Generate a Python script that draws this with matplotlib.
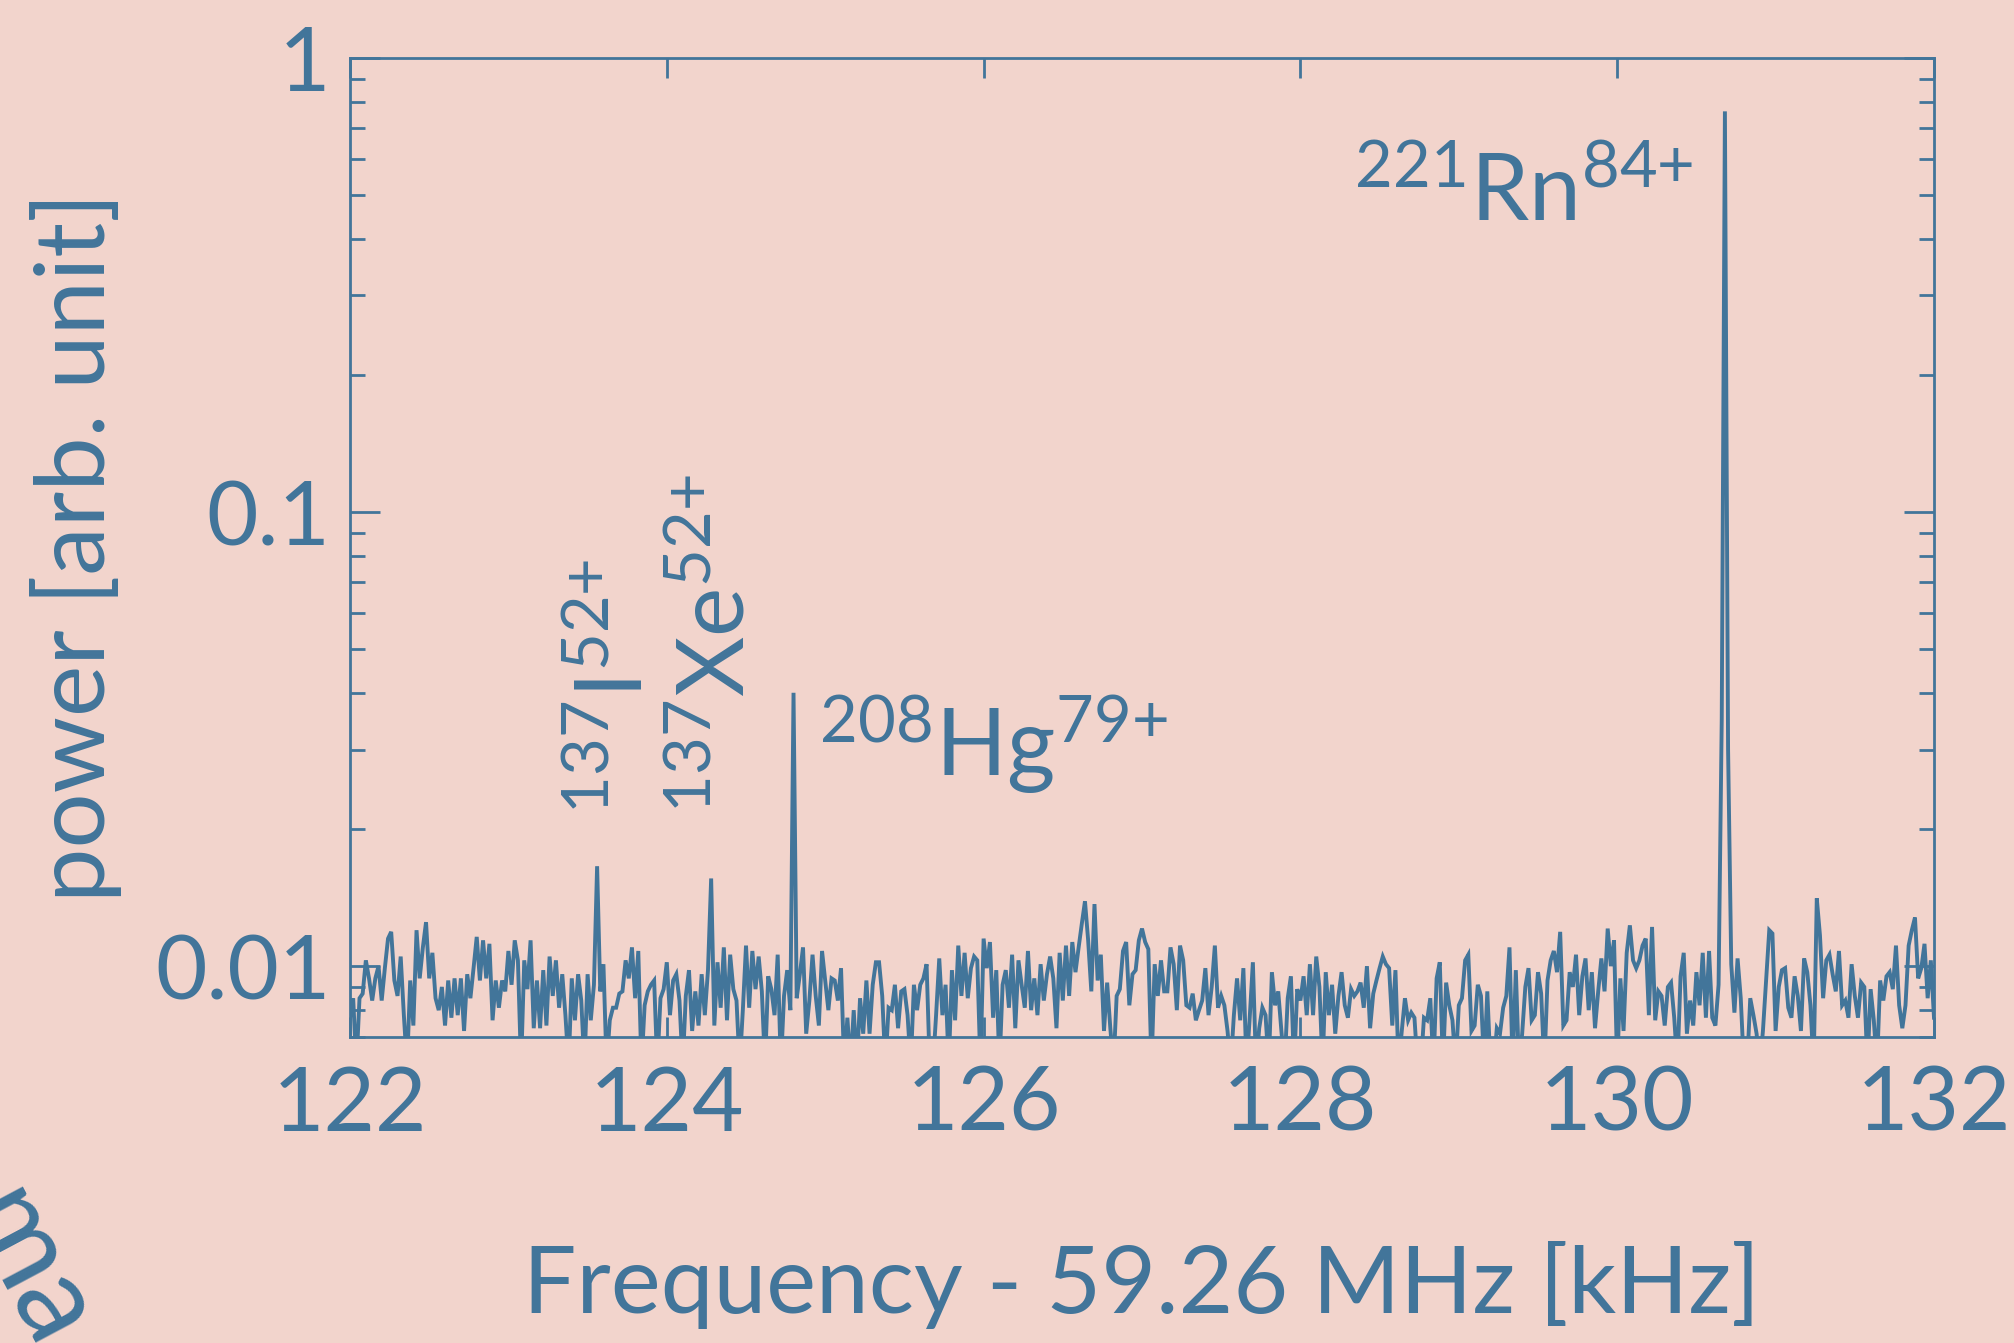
import numpy as np
import matplotlib
matplotlib.use("Agg")
import matplotlib.pyplot as plt
from matplotlib.ticker import FixedLocator, LogLocator, NullFormatter, NullLocator

# colours
BG = "#F2D4CC"
INK = "#42759A"

plt.rcParams["font.family"] = ["Lato", "DejaVu Sans"]
plt.rcParams["mathtext.fontset"] = "custom"
plt.rcParams["mathtext.default"] = "regular"
plt.rcParams["mathtext.rm"] = "Lato"

# =====================================================================
# Data (power in units of 1e-2, even spacing in f)
# =====================================================================
freq_start, freq_stop = 122.0, 132.0

power_122_1236 = [0.77, 0.85, 0.60, 0.85, 0.87, 1.03, 0.94, 0.84, 0.94, 1.00,
                  0.84, 0.99, 1.15, 1.19, 0.93, 0.86, 1.05, 0.78, 0.60, 0.93,
                  0.74, 1.20, 0.94, 1.10, 1.25, 0.94, 1.07, 0.85, 0.80, 0.90,
                  0.74, 0.93, 0.77, 0.94, 0.78, 0.94, 0.72, 0.96, 0.85, 0.99,
                  1.16, 0.93, 1.14, 0.94, 1.12, 0.76, 0.93, 0.81, 0.93, 0.88,
                  1.08, 0.91, 1.14, 1.03, 0.60, 1.03, 0.89, 1.14, 0.73, 0.93,
                  0.73, 0.98, 0.74, 1.05, 0.86, 1.03, 0.81, 0.96, 0.78, 0.60,
                  0.94, 0.76, 0.96, 0.84, 0.60, 0.96, 0.76, 0.91, 1.66, 0.88,
                  1.01, 0.60, 0.76, 0.81]
power_1237_1253 = [0.81, 0.87, 0.88, 1.03, 0.94, 1.10, 0.85, 1.08, 0.60, 0.82,
                   0.88, 0.91, 0.93, 0.60, 0.85, 0.89, 1.02, 0.78, 0.93, 0.96,
                   0.84, 0.60, 0.86, 0.98, 0.72, 0.88, 0.74, 0.96, 0.78, 0.98,
                   1.56, 0.74, 1.02, 0.81, 1.10, 0.76, 1.06, 0.89, 0.84, 0.60,
                   0.80, 1.11, 0.81, 1.08, 0.89, 1.05, 0.88, 0.60, 0.95, 0.89,
                   0.78, 1.06, 0.60, 0.86, 0.98, 0.80, 4.00, 0.85, 0.96, 1.10,
                   0.71, 0.84, 1.06, 0.86, 0.74, 1.08, 0.93, 0.80, 0.94, 0.93,
                   0.84, 0.99, 0.60, 0.77, 0.60, 0.80, 0.60, 0.85, 0.71, 0.93,
                   0.71, 0.91, 1.02]
power_1253_1270 = [1.02, 0.86, 0.60, 0.81, 0.80, 0.91, 0.73, 0.88, 0.89, 0.78,
                   0.60, 0.91, 0.80, 0.91, 0.94, 1.01, 0.60, 0.60, 0.78, 1.04,
                   0.78, 0.91, 0.60, 0.98, 0.76, 1.11, 0.86, 1.07, 0.85, 0.99,
                   1.05, 1.03, 0.60, 1.15, 0.99, 1.13, 0.77, 0.98, 0.60, 0.91,
                   0.98, 0.81, 1.06, 0.73, 1.03, 0.91, 0.81, 1.08, 0.80, 0.94,
                   0.78, 1.01, 0.84, 0.96, 1.05, 0.94, 0.73, 1.07, 0.84, 1.11,
                   0.86, 1.13, 0.97, 1.10, 1.24, 1.39, 1.14, 0.88, 1.37, 0.93,
                   1.06, 0.72, 0.92, 0.73, 0.60, 0.86, 0.89, 1.08, 1.13, 0.82,
                   0.96, 0.98, 1.14]
power_1270_1286 = [1.21, 1.13, 1.09, 0.60, 1.01, 0.86, 1.03, 0.88, 0.88, 1.10,
                   1.01, 0.80, 1.11, 1.03, 0.82, 0.81, 0.87, 0.76, 0.80, 0.84,
                   0.99, 0.78, 0.90, 1.11, 0.81, 0.86, 0.82, 0.72, 0.60, 0.78,
                   0.94, 0.76, 0.99, 0.60, 0.77, 1.02, 0.60, 0.73, 0.81, 0.78,
                   0.60, 0.97, 0.82, 0.88, 0.72, 0.60, 0.85, 0.95, 0.60, 0.89,
                   0.84, 0.95, 0.78, 1.01, 0.78, 1.05, 0.90, 0.60, 0.97, 0.78,
                   0.91, 0.71, 0.86, 0.97, 0.82, 0.77, 0.89, 0.86, 0.88, 0.92,
                   0.81, 1.00, 0.73, 0.87, 0.93, 0.99, 1.05, 1.01, 0.99, 0.74,
                   0.98, 0.60, 0.72]
power_1287_1303 = [0.85, 0.76, 0.79, 0.77, 0.60, 0.60, 0.77, 0.76, 0.85, 0.60,
                   0.94, 1.02, 0.60, 0.92, 0.82, 0.76, 0.60, 0.82, 0.85, 1.03,
                   1.06, 0.72, 0.74, 0.91, 0.86, 0.60, 0.88, 0.60, 0.60, 0.73,
                   0.71, 0.81, 0.86, 1.10, 0.60, 0.98, 0.60, 0.71, 0.90, 0.99,
                   0.76, 0.78, 0.97, 0.87, 0.60, 0.93, 1.03, 1.08, 0.97, 1.19,
                   0.74, 0.76, 0.97, 0.90, 1.06, 0.78, 0.95, 1.04, 0.80, 0.97,
                   0.73, 0.88, 1.04, 0.88, 1.21, 1.00, 1.14, 0.60, 0.94, 0.72,
                   1.07, 1.23, 1.03, 0.99, 1.03, 1.11, 1.15, 0.78, 1.22, 0.76,
                   0.88, 0.86, 0.74]
power_1303_1320 = [0.90, 0.92, 0.77, 0.60, 0.95, 1.07, 0.71, 0.84, 0.74, 0.97,
                   0.82, 1.07, 0.77, 1.08, 0.77, 0.74, 0.91, 3.50, 76.3, 3.00,
                   1.01, 0.79, 1.04, 0.85, 0.60, 0.60, 0.85, 0.78, 0.71, 0.60,
                   0.72, 0.93, 1.20, 1.18, 0.72, 0.90, 0.98, 0.99, 0.81, 0.77,
                   0.95, 0.86, 0.72, 1.04, 0.97, 0.82, 0.60, 1.41, 1.17, 0.85,
                   1.03, 1.06, 0.96, 0.88, 1.08, 0.82, 0.84, 0.77, 1.01, 0.86,
                   0.77, 0.92, 0.90, 0.60, 0.89, 0.76, 0.60, 0.93, 0.84, 0.95,
                   0.97, 0.89, 1.11, 0.82, 0.73, 0.82, 1.11, 1.20, 1.28, 0.94,
                   0.99, 1.12, 0.85, 1.03, 0.77]

power = 1e-2 * np.array(power_122_1236 + power_1237_1253 + power_1253_1270 +
                        power_1270_1286 + power_1287_1303 + power_1303_1320)
freq = np.linspace(freq_start, freq_stop, len(power))

# ion labels
ion_labels = [r"${}^{221}$Rn$^{84{+}}$", r"${}^{208}$Hg$^{79{+}}$",
              r"${}^{137}$I$^{52{+}}$", r"${}^{137}$Xe$^{52{+}}$"]
ion_freq = [130.48, 124.96, 123.85, 124.49]
ion_power = [0.4375, 0.0262, 0.0216, 0.0217]
ion_rot = [0, 0, 90, 90]
ion_ha = ["right", "left", "left", "left"]

x_ticks = [122, 124, 126, 128, 130, 132]
y_ticks = [0.01, 0.1, 1.0]
y_tick_labels = ["0.01", "0.1", "1"]

# =====================================================================
# Plot
# =====================================================================
fig = plt.figure(figsize=(20.15, 13.43), dpi=100, facecolor=BG)
ax = fig.add_axes([0.1737, 0.2278, 0.7861, 0.729])
ax.set_facecolor(BG)

ax.plot(freq, power, color=INK, lw=2.8, solid_joinstyle="miter")

ax.set_yscale("log")
ax.set_xlim(freq_start, freq_stop)
ax.set_ylim(0.00698, 1.0)

ax.xaxis.set_major_locator(FixedLocator(x_ticks))
ax.set_xticklabels([str(t) for t in x_ticks])
ax.xaxis.set_minor_locator(NullLocator())
ax.yaxis.set_major_locator(FixedLocator(y_ticks))
ax.set_yticklabels(y_tick_labels)
ax.yaxis.set_minor_locator(LogLocator(base=10, subs=np.arange(2, 10)))
ax.yaxis.set_minor_formatter(NullFormatter())

for s in ax.spines.values():
    s.set_color(INK)
    s.set_linewidth(2)

ax.tick_params(which="both", direction="in", top=True, right=True,
               color=INK, labelcolor=INK, width=2)
ax.tick_params(axis="x", which="major", length=14.4, labelsize=64, pad=20)
ax.tick_params(axis="y", which="major", length=21.6, labelsize=64, pad=14)
ax.tick_params(axis="y", which="minor", length=10.8)

ax.set_xlabel("Frequency - 59.26 MHz [kHz]", fontsize=68, color=INK, labelpad=68)
ax.set_ylabel("power [arb. unit]", fontsize=70, color=INK, labelpad=24)

for lab, f, p, r, ha in zip(ion_labels, ion_freq, ion_power, ion_rot, ion_ha):
    ax.text(f, p, lab, rotation=r, rotation_mode="anchor", ha=ha,
            va="baseline", fontsize=67, color=INK)

# fragment of the curved background caption in the lower left corner
fig.text(-42 / 2015, 1 - 1215 / 1343, "ma", rotation=-62, rotation_mode="anchor",
         ha="left", va="baseline", fontsize=88, color=INK)

fig.savefig("out.png", dpi=100, facecolor=BG)
